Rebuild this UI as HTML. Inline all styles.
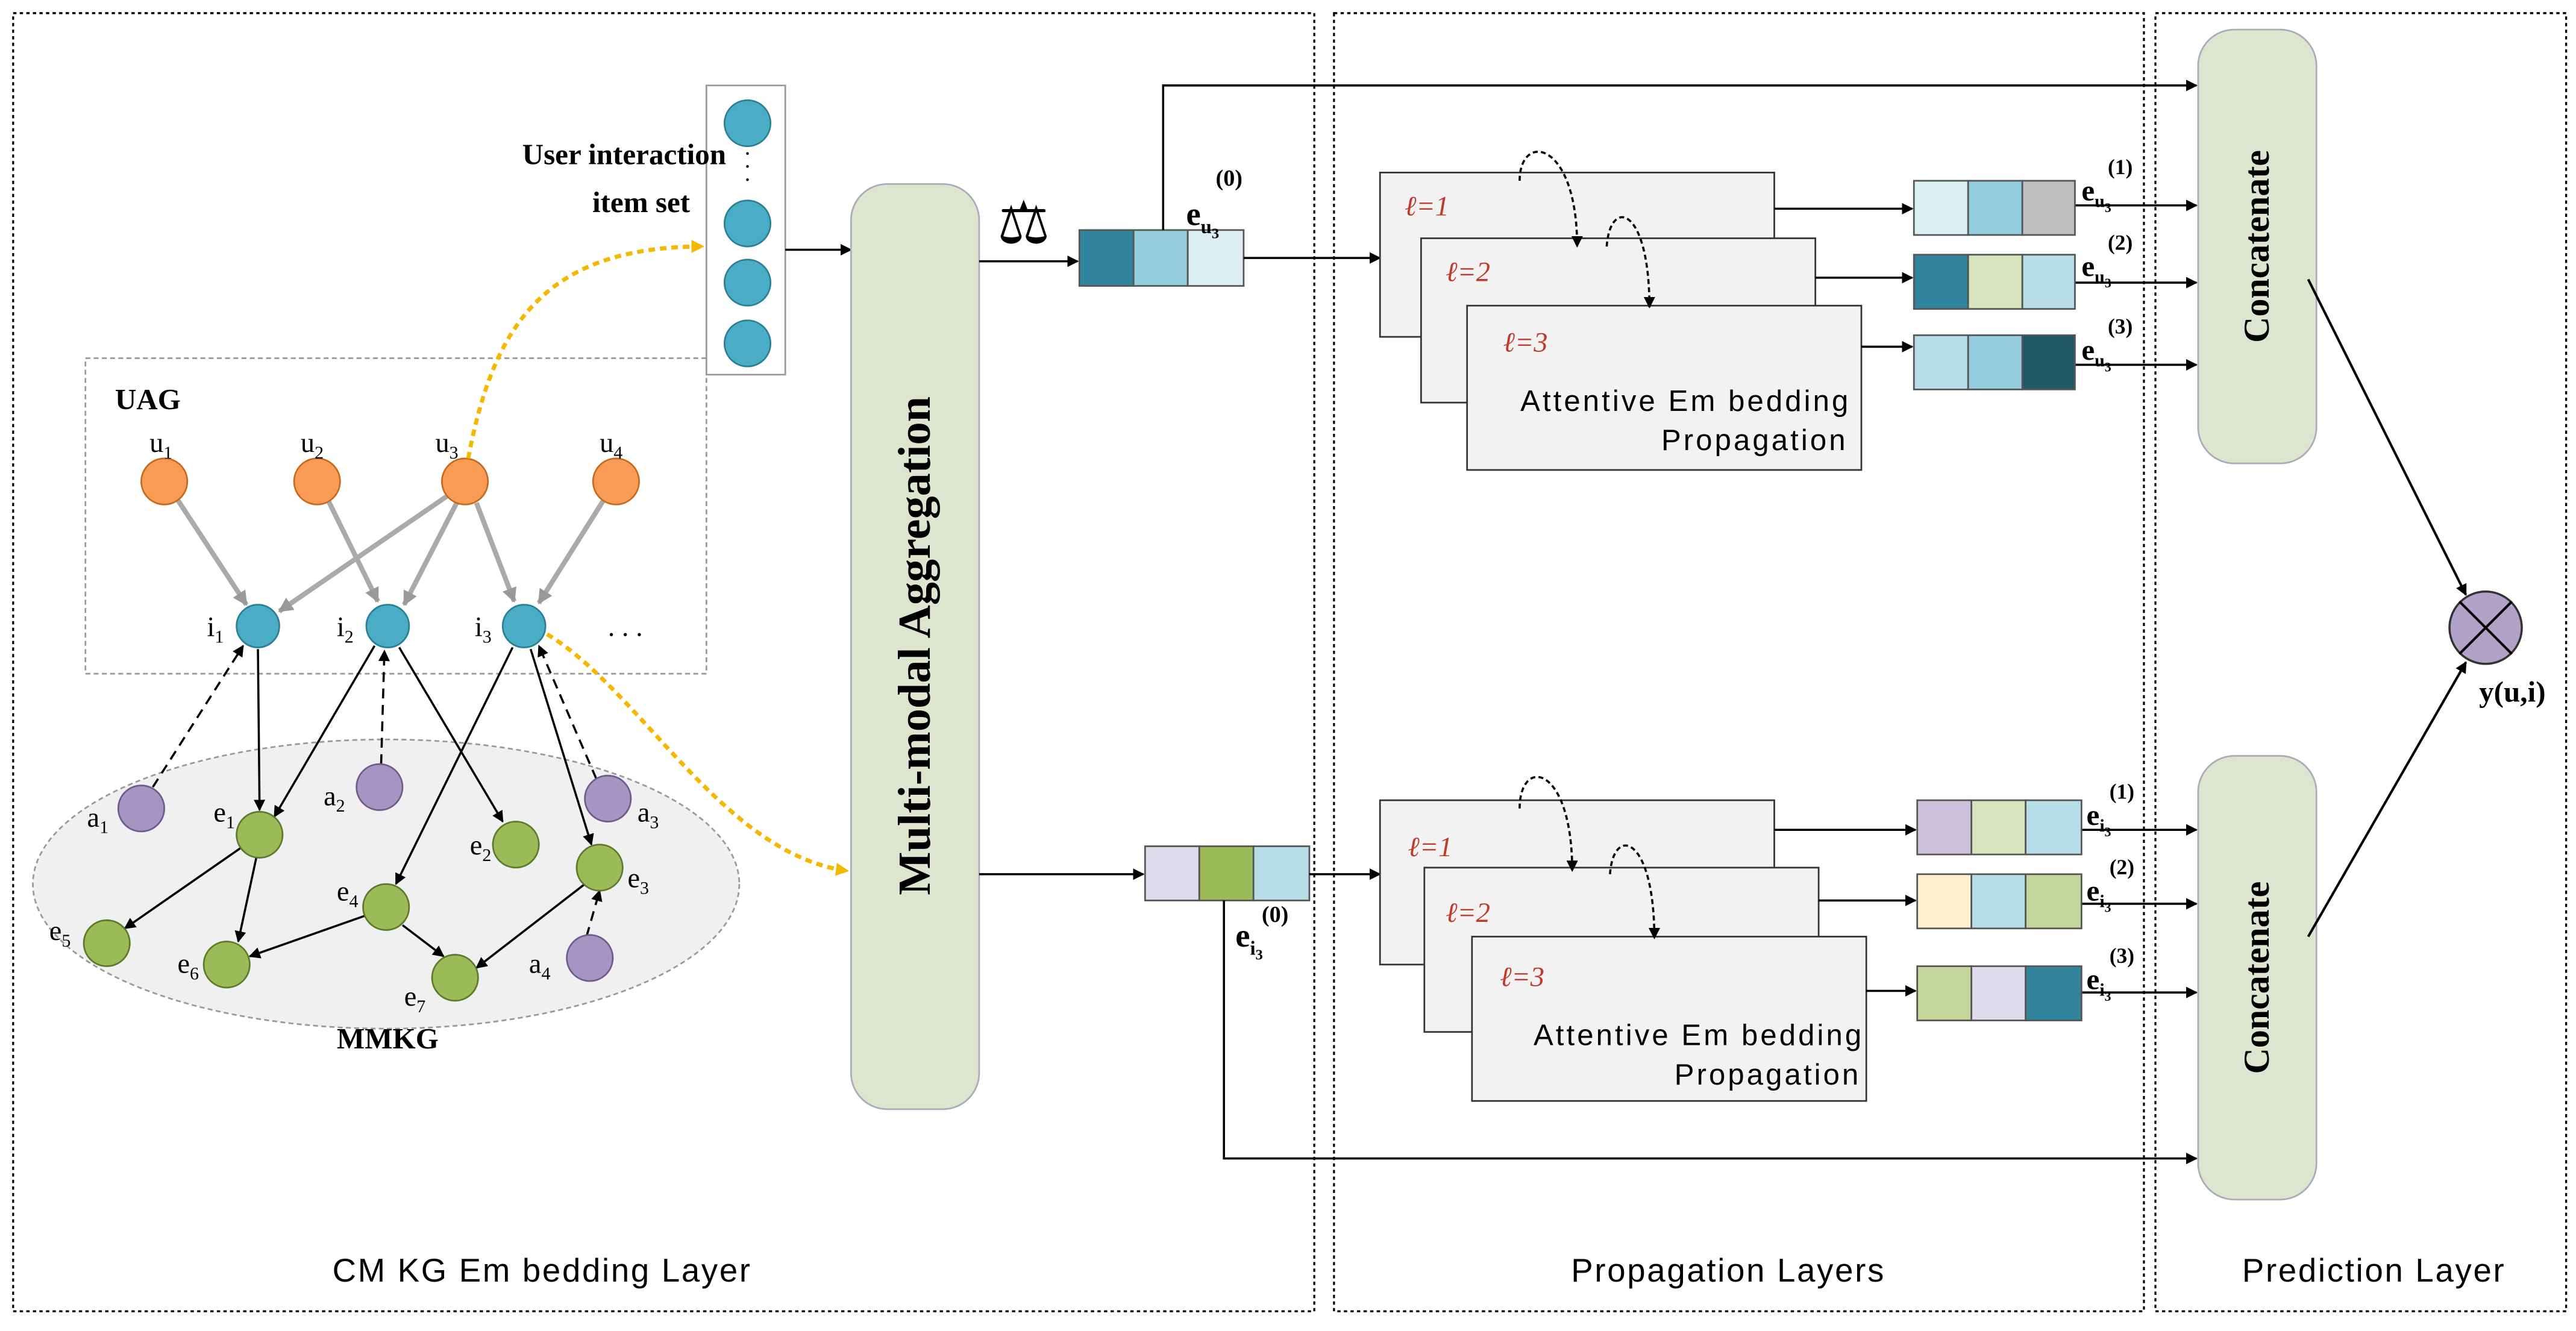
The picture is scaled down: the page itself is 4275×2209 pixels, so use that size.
<!DOCTYPE html>
<html><head><meta charset="utf-8"><style>
html,body{margin:0;padding:0;background:#fff;}
svg{display:block;}
.s{font-family:"Liberation Serif",serif;}
.a{font-family:"Liberation Sans",sans-serif;}
</style></head><body>
<svg width="4275" height="2209" viewBox="0 0 1568 810" preserveAspectRatio="none" xmlns="http://www.w3.org/2000/svg">
<defs>
<marker id="ar" viewBox="0 0 10 10" refX="9" refY="5" markerWidth="7" markerHeight="7" orient="auto" markerUnits="userSpaceOnUse"><path d="M0,0 L10,5 L0,10 z" fill="#000"/></marker>
<marker id="arg" viewBox="0 0 10 10" refX="9" refY="5" markerWidth="9" markerHeight="9" orient="auto" markerUnits="userSpaceOnUse"><path d="M0,0 L10,5 L0,10 z" fill="#999"/></marker>
<marker id="ary" viewBox="0 0 10 10" refX="9" refY="5" markerWidth="8" markerHeight="8" orient="auto" markerUnits="userSpaceOnUse"><path d="M0,0 L10,5 L0,10 z" fill="#f5b800"/></marker>
</defs>
<rect width="1568" height="810" fill="#fff"/>
<g fill="none" stroke="#000" stroke-width="1.2" stroke-dasharray="2,2">
<rect x="8" y="8" width="792" height="790"/>
<rect x="812" y="8" width="493" height="790"/>
<rect x="1312" y="8" width="250" height="790"/>
</g>
<g class="a" font-size="20" text-anchor="middle" fill="#000" letter-spacing="1">
<text x="330" y="780">CM KG Em bedding Layer</text>
<text x="1052" y="780">Propagation Layers</text>
<text x="1445" y="780">Prediction Layer</text>
</g>
<rect x="52" y="218" width="378" height="192" fill="none" stroke="#999" stroke-dasharray="3,2"/>
<text x="70" y="249" class="s" font-size="18" font-weight="bold">UAG</text>
<ellipse cx="235" cy="538" rx="215" ry="88" fill="#f0f0f0" stroke="#999" stroke-dasharray="3,2"/>
<text x="205" y="638" class="s" font-size="18" font-weight="bold">MMKG</text>
<g stroke="#aaa" stroke-width="3" marker-end="url(#arg)">
<line x1="108" y1="304" x2="150" y2="368"/>
<line x1="200" y1="305" x2="230" y2="366"/>
<line x1="272" y1="302" x2="170" y2="372"/>
<line x1="278" y1="306" x2="246" y2="368"/>
<line x1="290" y1="306" x2="313" y2="366"/>
<line x1="367" y1="305" x2="328" y2="367"/>
</g>
<g stroke="#000" stroke-width="1.3" marker-end="url(#ar)">
<line x1="157" y1="395" x2="158" y2="493"/>
<line x1="228" y1="393" x2="167" y2="497"/>
<line x1="243" y1="394" x2="306" y2="500"/>
<line x1="312" y1="394" x2="241" y2="538"/>
<line x1="323" y1="395" x2="360" y2="514"/>
<line x1="148" y1="515" x2="76" y2="565"/>
<line x1="156" y1="522" x2="145" y2="573"/>
<line x1="223" y1="557" x2="152" y2="582"/>
<line x1="245" y1="563" x2="270" y2="582"/>
<line x1="356" y1="538" x2="290" y2="589"/>
</g>
<g stroke="#000" stroke-width="1.3" stroke-dasharray="6,4" marker-end="url(#ar)">
<line x1="93" y1="479" x2="148" y2="393"/>
<line x1="232" y1="465" x2="234" y2="396"/>
<line x1="363" y1="474" x2="328" y2="393"/>
<line x1="357" y1="570" x2="365" y2="542"/>
</g>
<g stroke="#c46a1e" stroke-width="1" fill="#f79b55">
<circle cx="100" cy="293" r="14"/><circle cx="193" cy="293" r="14"/><circle cx="283" cy="293" r="14"/><circle cx="375" cy="293" r="14"/>
</g>
<g stroke="#2a7f95" stroke-width="1" fill="#4bacc6">
<circle cx="157" cy="381" r="13"/><circle cx="236" cy="381" r="13"/><circle cx="319" cy="381" r="13"/>
</g>
<g stroke="#5b7a2a" stroke-width="1" fill="#9bbb59">
<circle cx="158" cy="508" r="14"/><circle cx="314" cy="514" r="14"/><circle cx="365" cy="528" r="14"/><circle cx="235" cy="552" r="14"/><circle cx="65" cy="574" r="14"/><circle cx="138" cy="587" r="14"/><circle cx="277" cy="595" r="14"/>
</g>
<g stroke="#6e5a8c" stroke-width="1" fill="#a694c2">
<circle cx="86" cy="492" r="14"/><circle cx="231" cy="479" r="14"/><circle cx="370" cy="486" r="14"/><circle cx="359" cy="583" r="14"/>
</g>
<g class="s" font-size="17" fill="#000">
<text x="91" y="275">u<tspan font-size="11" dy="4">1</tspan></text>
<text x="183" y="275">u<tspan font-size="11" dy="4">2</tspan></text>
<text x="265" y="275">u<tspan font-size="11" dy="4">3</tspan></text>
<text x="365" y="275">u<tspan font-size="11" dy="4">4</tspan></text>
<text x="126" y="387">i<tspan font-size="11" dy="4">1</tspan></text>
<text x="205" y="387">i<tspan font-size="11" dy="4">2</tspan></text>
<text x="289" y="387">i<tspan font-size="11" dy="4">3</tspan></text>
<text x="370" y="387">. . .</text>
<text x="53" y="503">a<tspan font-size="11" dy="4">1</tspan></text>
<text x="197" y="490">a<tspan font-size="11" dy="4">2</tspan></text>
<text x="388" y="500">a<tspan font-size="11" dy="4">3</tspan></text>
<text x="322" y="592">a<tspan font-size="11" dy="4">4</tspan></text>
<text x="130" y="500">e<tspan font-size="11" dy="4">1</tspan></text>
<text x="286" y="520">e<tspan font-size="11" dy="4">2</tspan></text>
<text x="382" y="540">e<tspan font-size="11" dy="4">3</tspan></text>
<text x="205" y="548">e<tspan font-size="11" dy="4">4</tspan></text>
<text x="30" y="572">e<tspan font-size="11" dy="4">5</tspan></text>
<text x="108" y="592">e<tspan font-size="11" dy="4">6</tspan></text>
<text x="246" y="612">e<tspan font-size="11" dy="4">7</tspan></text>
</g>
<path d="M285,279 C300,200 330,150 428,150" fill="none" stroke="#f5b800" stroke-width="2.5" stroke-dasharray="4,3" marker-end="url(#ary)"/>
<path d="M333,386 C390,420 440,520 516,530" fill="none" stroke="#f5b800" stroke-width="2.5" stroke-dasharray="4,3" marker-end="url(#ary)"/>
<rect x="430" y="52" width="48" height="176" fill="#fff" stroke="#999"/>
<g fill="#4bacc6" stroke="#2a7f95">
<circle cx="455" cy="75" r="14"/><circle cx="455" cy="136" r="14"/><circle cx="455" cy="172" r="14"/><circle cx="455" cy="209" r="14"/>
</g>
<text x="455" y="98" class="s" font-size="14" text-anchor="middle">·</text>
<text x="455" y="106" class="s" font-size="14" text-anchor="middle">·</text>
<text x="455" y="114" class="s" font-size="14" text-anchor="middle">·</text>
<g class="s" font-size="18" font-weight="bold" text-anchor="end">
<text x="442" y="100">User interaction</text>
<text x="420" y="129">item set</text>
</g>
<line x1="478" y1="152" x2="518" y2="152" stroke="#000" stroke-width="1.3" marker-end="url(#ar)"/>
<rect x="518" y="112" width="78" height="563" rx="22" fill="#dde5cf" stroke="#aab"/>
<text transform="translate(566,393) rotate(-90)" class="s" font-size="28" font-weight="bold" text-anchor="middle">Multi-modal Aggregation</text>
<text x="607" y="148" font-size="36" font-family="DejaVu Sans,sans-serif">⚖</text>
<line x1="596" y1="159" x2="656" y2="159" stroke="#000" stroke-width="1.3" marker-end="url(#ar)"/>
<rect x="657" y="140" width="33" height="34" fill="#31849b" stroke="#555"/>
<rect x="690" y="140" width="33" height="34" fill="#93cddd" stroke="#555"/>
<rect x="723" y="140" width="34" height="34" fill="#dbeef3" stroke="#555"/>
<line x1="757" y1="157" x2="840" y2="157" stroke="#000" stroke-width="1.3" marker-end="url(#ar)"/>
<polyline points="708,140 708,52 1337,52" fill="none" stroke="#000" stroke-width="1.3" marker-end="url(#ar)"/>
<line x1="596" y1="532" x2="696" y2="532" stroke="#000" stroke-width="1.3" marker-end="url(#ar)"/>
<rect x="697" y="515" width="33" height="33" fill="#e0dbeb" stroke="#555"/>
<rect x="730" y="515" width="33" height="33" fill="#9bbb59" stroke="#555"/>
<rect x="763" y="515" width="34" height="33" fill="#b7dee8" stroke="#555"/>
<g class="s" font-weight="bold">
<text x="722" y="137" font-size="20">e<tspan font-size="12" dy="5">u</tspan><tspan font-size="9" dy="3">3</tspan></text>
<text x="740" y="113" font-size="14">(0)</text>
<text x="752" y="576" font-size="20">e<tspan font-size="12" dy="5">i</tspan><tspan font-size="9" dy="3">3</tspan></text>
<text x="768" y="561" font-size="14">(0)</text>
</g>
<line x1="797" y1="532" x2="840" y2="532" stroke="#000" stroke-width="1.3" marker-end="url(#ar)"/>
<polyline points="745,548 745,705 1337,705" fill="none" stroke="#000" stroke-width="1.3" marker-end="url(#ar)"/>
<g fill="#f2f2f2" stroke="#333" stroke-width="1">
<rect x="840" y="105" width="240" height="100"/>
<rect x="865" y="145" width="240" height="100"/>
<rect x="893" y="186" width="240" height="100"/>
</g>
<g class="s" font-size="17" font-style="italic" fill="#c0392b">
<text x="855" y="131">ℓ=1</text><text x="880" y="171">ℓ=2</text><text x="915" y="214">ℓ=3</text>
</g>
<g class="a" font-size="18" text-anchor="middle" letter-spacing="1.5">
<text x="1026" y="250">Attentive Em bedding</text>
<text x="1068" y="274">Propagation</text>
</g>
<path d="M925,110 C925,80 960,85 960,150" fill="none" stroke="#000" stroke-width="1.3" stroke-dasharray="3,2" marker-end="url(#ar)"/>
<path d="M978,150 C980,120 1004,125 1004,187" fill="none" stroke="#000" stroke-width="1.3" stroke-dasharray="3,2" marker-end="url(#ar)"/>
<g stroke="#000" stroke-width="1.3" marker-end="url(#ar)">
<line x1="1080" y1="127" x2="1164" y2="127"/>
<line x1="1105" y1="169" x2="1164" y2="169"/>
<line x1="1133" y1="211" x2="1164" y2="211"/>
<line x1="1263" y1="125" x2="1337" y2="125"/>
<line x1="1263" y1="172" x2="1337" y2="172"/>
<line x1="1263" y1="222" x2="1337" y2="222"/>
</g>
<g stroke="#555">
<rect x="1165" y="110" width="33" height="33" fill="#dbeef3"/><rect x="1198" y="110" width="33" height="33" fill="#93cddd"/><rect x="1231" y="110" width="32" height="33" fill="#bfbfbf"/>
<rect x="1165" y="155" width="33" height="33" fill="#31849b"/><rect x="1198" y="155" width="33" height="33" fill="#d7e4bd"/><rect x="1231" y="155" width="32" height="33" fill="#b7dee8"/>
<rect x="1165" y="204" width="33" height="33" fill="#b7dee8"/><rect x="1198" y="204" width="33" height="33" fill="#93cddd"/><rect x="1231" y="204" width="32" height="33" fill="#215968"/>
</g>
<g class="s" font-weight="bold">
<text x="1267" y="122" font-size="18">e<tspan font-size="11" dy="4">u</tspan><tspan font-size="8" dy="3">3</tspan></text>
<text x="1283" y="106" font-size="13">(1)</text>
<text x="1267" y="168" font-size="18">e<tspan font-size="11" dy="4">u</tspan><tspan font-size="8" dy="3">3</tspan></text>
<text x="1283" y="152" font-size="13">(2)</text>
<text x="1267" y="219" font-size="18">e<tspan font-size="11" dy="4">u</tspan><tspan font-size="8" dy="3">3</tspan></text>
<text x="1283" y="203" font-size="13">(3)</text>
<text x="1270" y="502" font-size="18">e<tspan font-size="11" dy="4">i</tspan><tspan font-size="8" dy="3">3</tspan></text>
<text x="1284" y="486" font-size="13">(1)</text>
<text x="1270" y="548" font-size="18">e<tspan font-size="11" dy="4">i</tspan><tspan font-size="8" dy="3">3</tspan></text>
<text x="1284" y="532" font-size="13">(2)</text>
<text x="1270" y="602" font-size="18">e<tspan font-size="11" dy="4">i</tspan><tspan font-size="8" dy="3">3</tspan></text>
<text x="1284" y="586" font-size="13">(3)</text>
</g>
<g fill="#f2f2f2" stroke="#333" stroke-width="1">
<rect x="840" y="487" width="240" height="100"/>
<rect x="867" y="528" width="240" height="100"/>
<rect x="896" y="570" width="240" height="100"/>
</g>
<g class="s" font-size="17" font-style="italic" fill="#c0392b">
<text x="857" y="521">ℓ=1</text><text x="880" y="561">ℓ=2</text><text x="913" y="600">ℓ=3</text>
</g>
<g class="a" font-size="18" text-anchor="middle" letter-spacing="1.5">
<text x="1034" y="636">Attentive Em bedding</text>
<text x="1076" y="660">Propagation</text>
</g>
<path d="M925,492 C925,460 957,465 957,530" fill="none" stroke="#000" stroke-width="1.3" stroke-dasharray="3,2" marker-end="url(#ar)"/>
<path d="M980,532 C982,502 1007,508 1007,571" fill="none" stroke="#000" stroke-width="1.3" stroke-dasharray="3,2" marker-end="url(#ar)"/>
<g stroke="#000" stroke-width="1.3" marker-end="url(#ar)">
<line x1="1080" y1="505" x2="1166" y2="505"/>
<line x1="1107" y1="548" x2="1166" y2="548"/>
<line x1="1136" y1="603" x2="1166" y2="603"/>
<line x1="1267" y1="505" x2="1337" y2="505"/>
<line x1="1267" y1="550" x2="1337" y2="550"/>
<line x1="1267" y1="604" x2="1337" y2="604"/>
</g>
<g stroke="#555">
<rect x="1167" y="487" width="33" height="33" fill="#ccc1da"/><rect x="1200" y="487" width="33" height="33" fill="#d7e4bd"/><rect x="1233" y="487" width="34" height="33" fill="#b7dee8"/>
<rect x="1167" y="532" width="33" height="33" fill="#fff2cc"/><rect x="1200" y="532" width="33" height="33" fill="#b7dee8"/><rect x="1233" y="532" width="34" height="33" fill="#c3d69b"/>
<rect x="1167" y="588" width="33" height="33" fill="#c3d69b"/><rect x="1200" y="588" width="33" height="33" fill="#e0dbeb"/><rect x="1233" y="588" width="34" height="33" fill="#31849b"/>
</g>
<rect x="1338" y="18" width="72" height="264" rx="22" fill="#dde5cf" stroke="#aab"/>
<text transform="translate(1381,150) rotate(-90)" class="s" font-size="22" font-weight="bold" text-anchor="middle">Concatenate</text>
<rect x="1338" y="460" width="72" height="270" rx="22" fill="#dde5cf" stroke="#aab"/>
<text transform="translate(1381,595) rotate(-90)" class="s" font-size="22" font-weight="bold" text-anchor="middle">Concatenate</text>
<g stroke="#000" stroke-width="1.5" marker-end="url(#ar)">
<line x1="1405" y1="170" x2="1501" y2="362"/>
<line x1="1405" y1="570" x2="1501" y2="403"/>
</g>
<circle cx="1513" cy="382" r="22" fill="#b3a2c7" stroke="#333" stroke-width="1.3"/>
<line x1="1497" y1="366" x2="1529" y2="398" stroke="#000" stroke-width="1.5"/>
<line x1="1529" y1="366" x2="1497" y2="398" stroke="#000" stroke-width="1.5"/>
<text x="1509" y="427" class="s" font-size="18" font-weight="bold">y(u,i)</text>
</svg>
</body></html>
